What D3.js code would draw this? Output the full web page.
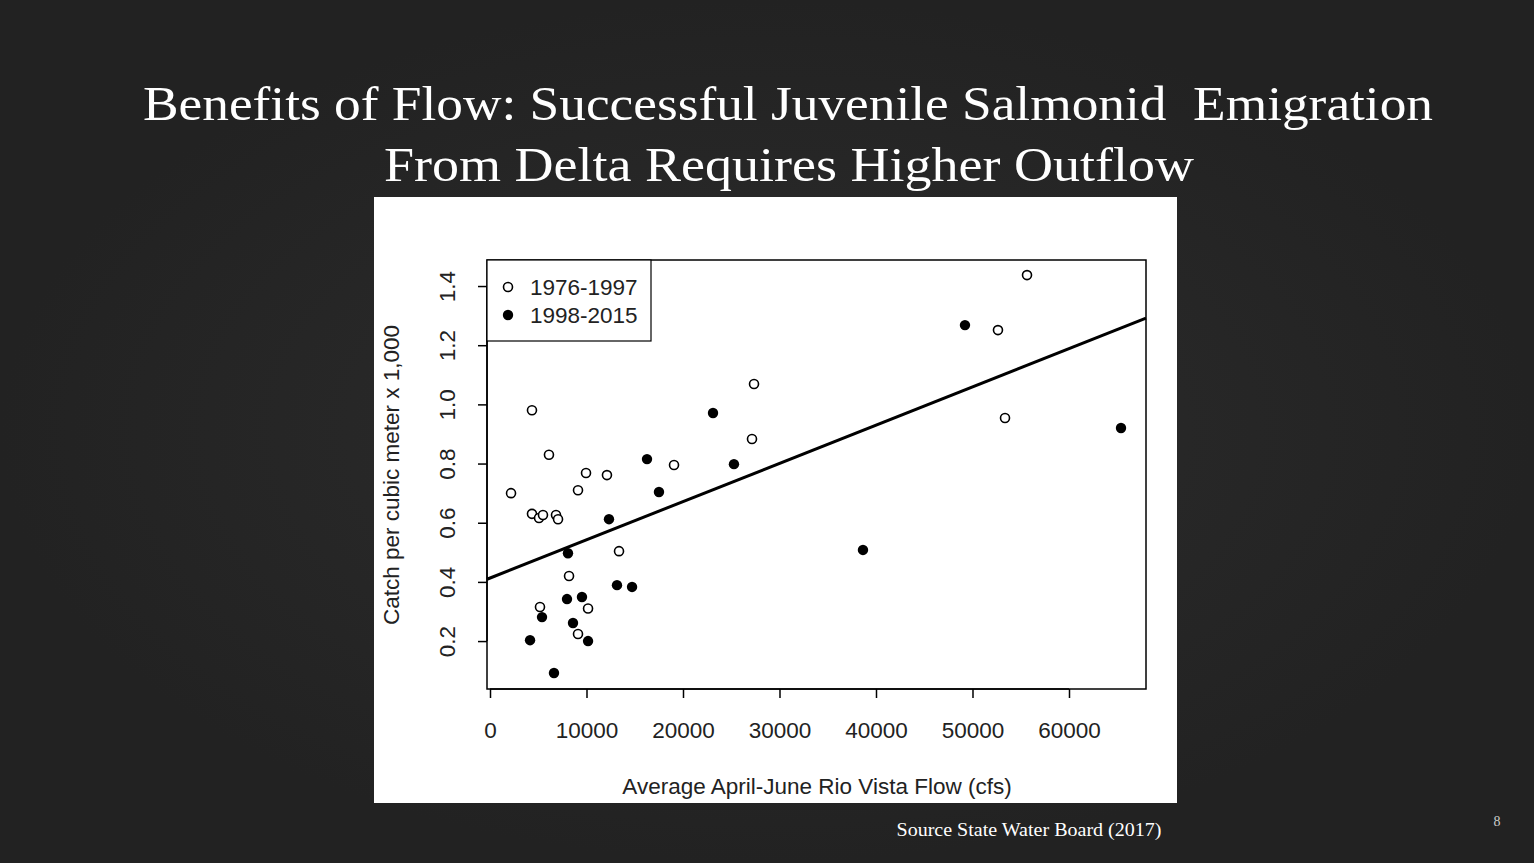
<!DOCTYPE html>
<html><head><meta charset="utf-8">
<script src="https://cdn.jsdelivr.net/npm/d3@7"></script>
<style>
body{margin:0;background:#272727;}
svg{display:block}
</style></head><body>
<svg id="c" width="1534" height="863"></svg>
<script>
// data
var openX = [2180,4350,6110,4350,5080,5490,6840,7050,9120,9950,12120,13370,8190,5180,10160,9120,19070,27150,27360,52640,53370,55650];
var openY = [0.70,0.98,0.83,0.63,0.616,0.626,0.626,0.612,0.71,0.768,0.761,0.504,0.42,0.315,0.31,0.224,0.795,0.883,1.069,1.251,0.954,1.437];
var fillX = [4150,5390,6630,8080,7980,9530,8600,10160,12330,13160,14720,16270,17510,23110,25280,38650,49220,65390];
var fillY = [0.203,0.281,0.092,0.497,0.342,0.349,0.261,0.2,0.612,0.389,0.383,0.815,0.704,0.971,0.798,0.508,1.268,0.920];
var fitIntercept = 0.413, fitSlope = 1.292e-5;
var xTicks = [0,10000,20000,30000,40000,50000,60000];
var yTicks = [0.2,0.4,0.6,0.8,1.0,1.2,1.4];
var legendLabels = ["1976-1997","1998-2015"];

var svg = d3.select("#c");
var bg = svg.append("defs").append("radialGradient").attr("id","bg");
bg.append("stop").attr("offset","0%").attr("stop-color","#2d2d2d");
bg.append("stop").attr("offset","100%").attr("stop-color","#222");
svg.append("rect").attr("width",1534).attr("height",863).attr("fill","url(#bg)");

var serif = "'Liberation Serif', 'DejaVu Serif', serif";
svg.append("text").attr("x",143).attr("y",120)
  .attr("fill","#fff").attr("font-family",serif).attr("font-size",48)
  .attr("textLength",1290).attr("lengthAdjust","spacingAndGlyphs")
  .text("Benefits of Flow: Successful Juvenile Salmonid\u00a0 Emigration");
svg.append("text").attr("x",384).attr("y",181)
  .attr("fill","#fff").attr("font-family",serif).attr("font-size",48)
  .attr("textLength",810).attr("lengthAdjust","spacingAndGlyphs")
  .text("From Delta Requires Higher Outflow");
svg.append("text").attr("x",1029).attr("y",836).attr("text-anchor","middle")
  .attr("fill","#fff").attr("font-family",serif).attr("font-size",18)
  .attr("textLength",265).attr("lengthAdjust","spacingAndGlyphs")
  .text("Source State Water Board (2017)");
svg.append("text").attr("x",1497).attr("y",826).attr("text-anchor","middle")
  .attr("fill","#ccc").attr("font-family",serif).attr("font-size",14).text("8");

svg.append("rect").attr("x",374).attr("y",197).attr("width",803).attr("height",606).attr("fill","#fff");

var L = 487, R = 1146, T = 260, B = 689;
var x = d3.scaleLinear().domain([-311,67980]).range([L,R]);
var y = d3.scaleLinear().domain([0.038,1.488]).range([B,T]);
var font = "Arial, 'Liberation Sans', sans-serif";
var fs = 22.5;

var g = svg.append("g");
g.append("rect").attr("x",L).attr("y",T).attr("width",R-L).attr("height",B-T)
  .attr("fill","none").attr("stroke","#000").attr("stroke-width",1.5);

var xa = g.append("g").attr("transform",`translate(0,${B})`)
  .call(d3.axisBottom(x).tickValues(xTicks).tickSize(9).tickPadding(24).tickFormat(d3.format("d")));
var ya = g.append("g").attr("transform",`translate(${L},0)`)
  .call(d3.axisLeft(y).tickValues(yTicks).tickSize(9).tickPadding(6).tickFormat(d3.format(".1f")));
[xa,ya].forEach(function(a){
  a.select(".domain").remove();
  a.selectAll("line").attr("stroke","#000").attr("stroke-width",1.5);
  a.selectAll("text").attr("font-family",font).attr("font-size",fs).attr("fill","#222");
});
ya.selectAll("text").attr("text-anchor","middle").attr("dy",0).attr("x",0).attr("y",0)
  .attr("transform","translate(-38,0) rotate(-90)")
  .attr("dominant-baseline","middle");
g.append("line").attr("x1",x(0)).attr("x2",x(60000)).attr("y1",B).attr("y2",B)
  .attr("stroke","#000").attr("stroke-width",1.5);
g.append("line").attr("x1",L).attr("x2",L).attr("y1",y(0.2)).attr("y2",y(1.4))
  .attr("stroke","#000").attr("stroke-width",1.5);

g.append("text").attr("x",817).attr("y",794).attr("text-anchor","middle")
  .attr("font-family",font).attr("font-size",fs).attr("fill","#222")
  .text("Average April-June Rio Vista Flow (cfs)");
g.append("text").attr("transform",`translate(399,475) rotate(-90)`).attr("text-anchor","middle")
  .attr("font-family",font).attr("font-size",fs).attr("fill","#222")
  .text("Catch per cubic meter x 1,000");

// regression line
var x0 = -311, x1 = 67980;
g.append("line").attr("x1",x(x0)).attr("y1",y(fitIntercept+fitSlope*x0))
  .attr("x2",x(x1)).attr("y2",y(fitIntercept+fitSlope*x1))
  .attr("stroke","#000").attr("stroke-width",3);

g.selectAll(".op").data(openX).enter().append("circle")
  .attr("cx",d=>x(d)).attr("cy",(d,i)=>y(openY[i])).attr("r",4.5)
  .attr("fill","#fff").attr("stroke","#000").attr("stroke-width",1.6);
g.selectAll(".fp").data(fillX).enter().append("circle")
  .attr("cx",d=>x(d)).attr("cy",(d,i)=>y(fillY[i])).attr("r",5.2).attr("fill","#000");

// legend
g.append("rect").attr("x",L).attr("y",T).attr("width",164).attr("height",81)
  .attr("fill","#fff").attr("stroke","#000").attr("stroke-width",1.2);
legendLabels.forEach(function(t,i){
  var cy = 287 + i*28;
  var c = g.append("circle").attr("cx",508).attr("cy",cy);
  if(i==0) c.attr("r",4.5).attr("fill","#fff").attr("stroke","#000").attr("stroke-width",1.6);
  else c.attr("r",5.2).attr("fill","#000");
  g.append("text").attr("x",530).attr("y",cy+8).attr("font-family",font).attr("font-size",fs)
    .attr("fill","#222").text(t);
});
</script></body></html>
